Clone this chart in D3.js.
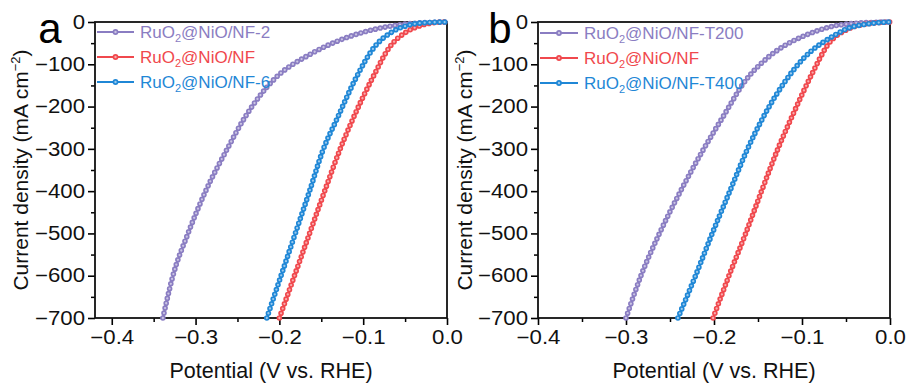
<!DOCTYPE html>
<html>
<head>
<meta charset="utf-8">
<script src="https://cdn.jsdelivr.net/npm/d3@7"></script>
<style>
  html, body { margin: 0; padding: 0; background: #fff; }
  svg text { font-family: Arial, "Liberation Sans", sans-serif; }
</style>
</head>
<body>
<svg id="chart" width="909" height="387"></svg>
<script>
// ---------- data ----------
const xTickValues = [-0.4, -0.3, -0.2, -0.1, 0.0];
const yTickValues = [0, -100, -200, -300, -400, -500, -600, -700];
const panelLetters = ["a", "b"];
const legendA = ["RuO2@NiO/NF-2", "RuO2@NiO/NF", "RuO2@NiO/NF-6"];
const legendB = ["RuO2@NiO/NF-T200", "RuO2@NiO/NF", "RuO2@NiO/NF-T400"];

// panel a  [potential (V vs RHE), current density (mA cm-2)]
const aNF2 = [[-0.339,-700],[-0.327,-600],[-0.309,-500],[-0.288,-400],[-0.263,-303],[-0.241,-225],[-0.206,-135],[-0.163,-76],[-0.128,-43],[-0.09,-19],[-0.05,-5],[-0.02,-1],[0,0]];
const aNF  = [[-0.2,-700],[-0.182,-600],[-0.164,-500],[-0.146,-400],[-0.128,-303],[-0.112,-228],[-0.088,-129],[-0.068,-58],[-0.048,-23],[-0.029,-7],[-0.012,-1],[0,0]];
const aNF6 = [[-0.215,-700],[-0.198,-600],[-0.181,-500],[-0.164,-400],[-0.148,-303],[-0.131,-228],[-0.108,-130],[-0.087,-60],[-0.066,-24],[-0.045,-7],[-0.025,-1.5],[0,0]];

// panel b
const bT200 = [[-0.3,-700],[-0.283,-600],[-0.262,-500],[-0.238,-400],[-0.2125,-303],[-0.19,-225],[-0.164,-138],[-0.14,-86],[-0.12,-56],[-0.1,-35],[-0.083,-21],[-0.065,-10],[-0.045,-4],[-0.02,-1],[0,0]];
const bNF   = [[-0.201,-700],[-0.183,-600],[-0.164,-500],[-0.146,-400],[-0.128,-303],[-0.111,-222],[-0.088,-120],[-0.07,-52],[-0.049,-18],[-0.028,-5],[-0.011,-1],[0,0]];
const bT400 = [[-0.241,-700],[-0.221,-600],[-0.202,-500],[-0.182,-400],[-0.1625,-303],[-0.144,-225],[-0.118,-137],[-0.1,-90],[-0.088,-66],[-0.076,-48],[-0.062,-30],[-0.049,-16],[-0.027,-5],[-0.01,-1],[0,0]];

const colors = { purple: "#8a7dc2", red: "#f0484d", blue: "#1f87d6" };

// ---------- drawing ----------
const svg = d3.select("#chart");

function widen(sel, factor) {
  sel.each(function () {
    const len = this.getComputedTextLength();
    d3.select(this).attr("textLength", len * factor).attr("lengthAdjust", "spacingAndGlyphs");
  });
}

function drawPanel(cfg) {
  const g = svg.append("g");
  const x = d3.scaleLinear().domain(cfg.xDomain).range([cfg.left, cfg.right]);
  const y = d3.scaleLinear().domain([-700, 0]).range([cfg.bottom, cfg.top]);

  // minor ticks
  const xMinor = [-0.35, -0.25, -0.15, -0.05];
  g.append("g").attr("transform", `translate(0,${cfg.bottom})`)
    .call(d3.axisBottom(x).tickValues(xMinor).tickSize(4).tickFormat(""))
    .call(s => s.select(".domain").remove())
    .call(s => s.selectAll("line").attr("stroke-width", 1.5));
  const yMinor = [-650, -550, -450, -350, -250, -150, -50];
  g.append("g").attr("transform", `translate(${cfg.left},0)`)
    .call(d3.axisLeft(y).tickValues(yMinor).tickSize(4).tickFormat(""))
    .call(s => s.select(".domain").remove())
    .call(s => s.selectAll("line").attr("stroke-width", 1.5));

  // major axes
  const xAxis = g.append("g").attr("transform", `translate(0,${cfg.bottom})`)
    .call(d3.axisBottom(x).tickValues(xTickValues).tickSize(7).tickPadding(5).tickFormat(d3.format(".1f")));
  const yAxis = g.append("g").attr("transform", `translate(${cfg.left},0)`)
    .call(d3.axisLeft(y).tickValues(yTickValues).tickSize(7).tickPadding(3).tickFormat(d3.format("d")));
  [xAxis, yAxis].forEach(a => {
    a.select(".domain").remove();
    a.selectAll("line").attr("stroke-width", 1.6);
    a.selectAll("text").attr("font-size", 19.5).attr("fill", "#111")
      .attr("font-family", "Arial, 'Liberation Sans', sans-serif");
    widen(a.selectAll("text"), 1.14);
  });

  // frame
  g.append("rect").attr("x", cfg.left).attr("y", cfg.top)
    .attr("width", cfg.right - cfg.left).attr("height", cfg.bottom - cfg.top)
    .attr("fill", "none").attr("stroke", "#111").attr("stroke-width", 1.8);

  // curves
  const line = d3.line().x(d => x(d[0])).y(d => y(d[1])).curve(d3.curveMonotoneX);
  const curves = g.append("g");
  cfg.series.forEach(s => {
    const dpath = line(s.data);
    curves.append("path").attr("d", dpath).attr("fill", "none")
      .attr("stroke", s.color).attr("stroke-width", 1.6);
    curves.append("path").attr("d", dpath).attr("fill", "none")
      .attr("stroke", s.color).attr("stroke-width", 5.6)
      .attr("stroke-linecap", "round").attr("stroke-dasharray", "0 5");
    curves.append("path").attr("d", dpath).attr("fill", "none")
      .attr("stroke", "#ffffff").attr("stroke-opacity", 0.55).attr("stroke-width", 2.3)
      .attr("stroke-linecap", "round").attr("stroke-dasharray", "0 5");
  });

  // legend
  const lg = g.append("g");
  cfg.legend.forEach((name, i) => {
    const s = cfg.series[i];
    const ly = cfg.legendY + i * 25;
    lg.append("line").attr("x1", cfg.legX0).attr("x2", cfg.legX1)
      .attr("y1", ly).attr("y2", ly).attr("stroke", s.color).attr("stroke-width", 1.8);
    const cx = (cfg.legX0 + cfg.legX1) / 2;
    lg.append("circle").attr("cx", cx).attr("cy", ly).attr("r", 2.9).attr("fill", s.color);
    lg.append("circle").attr("cx", cx).attr("cy", ly).attr("r", 1.2).attr("fill", "#fff").attr("fill-opacity", 0.55);
    const m = name.match(/^(RuO)2(.*)$/);
    const t = lg.append("text").attr("x", cfg.legX1 + 6).attr("y", ly + 6)
      .attr("font-size", 17).attr("fill", s.color);
    t.append("tspan").text(m[1]);
    t.append("tspan").text("2").attr("font-size", 11).attr("dy", 4);
    t.append("tspan").text(m[2]).attr("dy", -4);
  });

  // axis titles
  const yt = g.append("text")
    .attr("transform", `translate(${cfg.yTitleX},${(cfg.top + cfg.bottom) / 2}) rotate(-90)`)
    .attr("text-anchor", "middle").attr("font-size", 21).attr("fill", "#111");
  yt.append("tspan").text("Current density (mA cm");
  yt.append("tspan").text("−2").attr("font-size", 13).attr("dy", -8);
  yt.append("tspan").text(")").attr("dy", 8);

  g.append("text").attr("x", (cfg.left + cfg.right) / 2).attr("y", 378)
    .attr("text-anchor", "middle").attr("font-size", 21.5).attr("fill", "#111")
    .text("Potential (V vs. RHE)");

  // panel letter
  g.append("text").attr("x", cfg.letterX).attr("y", 43)
    .attr("text-anchor", "middle").attr("font-size", 42).attr("fill", "#000")
    .text(cfg.letter);
}

drawPanel({
  xDomain: [-0.42, 0], left: 95, right: 447, top: 22, bottom: 318,
  series: [
    { data: aNF2, color: colors.purple },
    { data: aNF, color: colors.red },
    { data: aNF6, color: colors.blue }
  ],
  legend: legendA, legendY: 32,
  legX0: 97, legX1: 134, yTitleX: 28, letterX: 50, letter: panelLetters[0]
});

drawPanel({
  xDomain: [-0.4, 0], left: 538, right: 890, top: 22, bottom: 318,
  series: [
    { data: bT200, color: colors.purple },
    { data: bNF, color: colors.red },
    { data: bT400, color: colors.blue }
  ],
  legend: legendB, legendY: 33,
  legX0: 540, legX1: 578, yTitleX: 472, letterX: 500, letter: panelLetters[1]
});
</script>
</body>
</html>
